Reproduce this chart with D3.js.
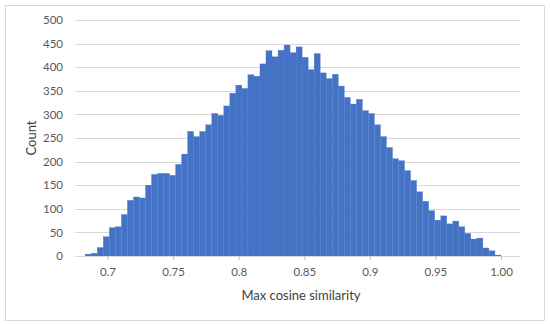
<!DOCTYPE html>
<html>
<head>
<meta charset="utf-8">
<script src="https://cdn.jsdelivr.net/npm/d3@7"></script>
<style>
  body { margin: 0; background: #fff; }
  text { font-family: Lato, "Noto Sans", sans-serif; }
</style>
</head>
<body>
<svg id="chart" width="550" height="324"></svg>
<script>
// histogram of max cosine similarity, 69 bins from 0.683 to 1.0
var binStart = 0.683,
    binWidth = 0.004594;

var counts = [
  4, 6, 18, 41, 60, 62, 88, 118, 125, 123,
  150, 173, 175, 175, 171, 194, 216, 264, 253, 264,
  278, 302, 298, 318, 345, 362, 355, 384, 381, 407,
  435, 422, 436, 447, 431, 443, 421, 395, 429, 388,
  376, 385, 360, 336, 322, 332, 308, 302, 278, 253,
  230, 206, 202, 181, 160, 136, 116, 96, 76, 85,
  68, 74, 62, 48, 36, 38, 17, 11, 2
];

var xTickValues = [0.7, 0.75, 0.8, 0.85, 0.9, 0.95, 1.0];
var xTickLabels = ["0.7", "0.75", "0.8", "0.85", "0.9", "0.95", "1.00"];
var yTickValues = [0, 50, 100, 150, 200, 250, 300, 350, 400, 450, 500];

var bins = counts.map(function(c, i) {
  return { x0: binStart + i * binWidth, x1: binStart + (i + 1) * binWidth, count: c };
});

var plotLeft = 75, plotRight = 520;

var x = d3.scaleLinear()
    .domain([0.7, 1.0])
    .range([107.5, 501]);

var y = d3.scaleLinear()
    .domain([0, 500])
    .range([256, 20]);

var svg = d3.select("#chart");

// outer frame
svg.append("rect")
    .attr("x", 5.5).attr("y", 5.5)
    .attr("width", 539).attr("height", 315)
    .attr("fill", "#fff")
    .attr("stroke", "#d9d9d9");

// gridlines
svg.append("g")
  .selectAll("line")
  .data(yTickValues.slice(1))
  .enter().append("line")
    .attr("x1", plotLeft).attr("x2", plotRight)
    .attr("y1", function(d) { return Math.round(y(d)) + 0.5; })
    .attr("y2", function(d) { return Math.round(y(d)) + 0.5; })
    .attr("stroke", "#d9d9d9");

// bars
svg.append("g")
  .selectAll("rect")
  .data(bins)
  .enter().append("rect")
    .attr("x", function(d) { return x(d.x0); })
    .attr("y", function(d) { return y(d.count); })
    .attr("width", function(d) { return x(d.x1) - x(d.x0); })
    .attr("height", function(d) { return y(0) - y(d.count); })
    .attr("fill", "#4472c4")
    .attr("stroke", "#4f7bc9")
    .attr("stroke-width", 0.3);

// x axis line
svg.append("line")
    .attr("x1", plotLeft).attr("x2", plotRight)
    .attr("y1", 256.5).attr("y2", 256.5)
    .attr("stroke", "#d9d9d9");

var xAxis = svg.append("g")
    .attr("transform", "translate(0,256)")
    .call(d3.axisBottom(x)
      .tickValues(xTickValues)
      .tickFormat(function(d, i) { return xTickLabels[i]; })
      .tickSize(4)
      .tickPadding(8));
xAxis.select(".domain").remove();
xAxis.selectAll(".tick line").attr("stroke", "#bfbfbf");
xAxis.selectAll(".tick text")
    .attr("fill", "#595959")
    .style("font-size", "11.5px");

var yAxis = svg.append("g")
    .attr("transform", "translate(" + plotLeft + ",0)")
    .call(d3.axisLeft(y)
      .tickValues(yTickValues)
      .tickSize(0)
      .tickPadding(12));
yAxis.select(".domain").remove();
yAxis.selectAll(".tick text")
    .attr("fill", "#595959")
    .style("font-size", "11.5px");

// axis titles
svg.append("text")
    .attr("x", 301).attr("y", 300)
    .attr("text-anchor", "middle")
    .attr("fill", "#404040")
    .style("font-size", "13px")
    .text("Max cosine similarity");

svg.append("text")
    .attr("transform", "translate(36,138) rotate(-90)")
    .attr("text-anchor", "middle")
    .attr("fill", "#404040")
    .style("font-size", "13px")
    .text("Count");
</script>
</body>
</html>
